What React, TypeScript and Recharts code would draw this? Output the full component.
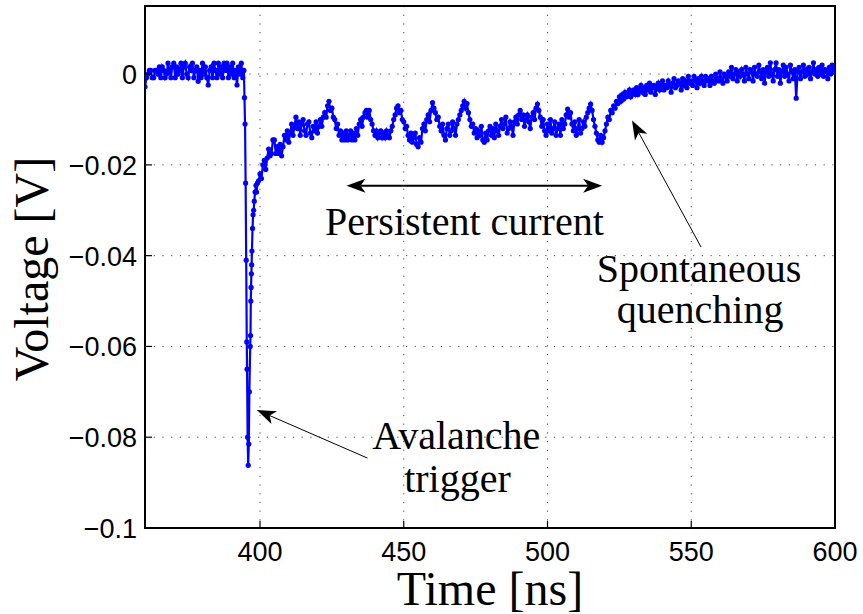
import React from 'react';
import { LineChart, Line, XAxis, YAxis, CartesianGrid, ReferenceLine, ReferenceDot, ReferenceArea } from 'recharts';

// [time ns, voltage mV]
const baselineNoise: [number, number][] = [
  [360, -2.8], [360.5, -0.8], [361, 0], [361.5, 0.8], [362, 0.8], [362.5, -0.8], [363, -0.8], [363.5, 0.8], [364, 0.8], [364.5, 0],
  [365, 1.6], [365.5, -0.8], [366, 1.6], [366.5, 0.8], [367, -0.8], [367.5, 0], [368, 2.4], [368.5, 0.8], [369, -0.8], [369.5, 1.6],
  [370, 2.4], [370.5, -0.8], [371, 1.6], [371.5, 0], [372, 0.8], [372.5, 2.4], [373, -0.8], [373.5, 1.6], [374, 2.4], [374.5, 0],
  [375, -0.8], [375.5, 1.6], [376, 0.8], [376.5, 2.4], [377, -0.8], [377.5, 0.8], [378, 1.6], [378.5, -1.6], [379, 0.8], [379.5, -0.8],
  [380, 2.4], [380.5, 0], [381, 1.6], [381.5, -0.8], [382, -2.4], [382.5, 0.8], [383, 1.6], [383.5, -0.8], [384, 2.4], [384.5, 0.8],
  [385, -0.8], [385.5, 2.4], [386, 0], [386.5, 1.6], [387, -0.8], [387.5, 2.4], [388, 0.8], [388.5, 2.4], [389, -0.8], [389.5, 1.6],
  [390, 0], [390.5, 2.4], [391, -0.8], [391.5, 0.8], [392, -2.4], [392.5, 1.6], [393, 0], [393.5, 2.4], [394, -0.8],
];

const avalancheSpike: [number, number][] = [
  [394.4, 0.8], [394.6, -5.2], [394.8, -11], [395.0, -24], [395.2, -41], [395.4, -59], [395.5, -65], [395.7, -80], [395.9, -86.2],
  [396.1, -81.5], [396.3, -70], [396.6, -60], [396.7, -57.6], [396.8, -50], [396.9, -47], [397.0, -44], [397.1, -42], [397.2, -39],
  [397.4, -34], [397.6, -31], [397.8, -30], [398.0, -28], [398.3, -26], [398.6, -24.5], [398.8, -26], [399.1, -24],
];

const persistentCurrent: [number, number][] = [
  [399.5, -23.5], [400, -22], [400.5, -23], [401, -20], [401.5, -19], [402, -21], [402.5, -18.5], [403, -16.5], [403.5, -18], [404, -17.5],
  [404.5, -14.5], [405, -14.5], [405.5, -17.5], [406, -16], [406.5, -17.5], [407, -15.5], [407.5, -18], [408, -16], [408.5, -13.5], [409, -14.5],
  [409.5, -12.5], [410, -15], [410.5, -13], [411, -11], [411.5, -13.5], [412, -11.5], [412.5, -9.5], [413, -12], [413.5, -10.5], [414, -13.5],
  [414.5, -11], [415, -10], [415.5, -12.5], [416, -13.5], [416.5, -11], [417, -10.5], [417.5, -13], [418, -14], [418.5, -11.5], [419, -12.5],
  [419.5, -10.5], [420, -13], [420.5, -11.5], [421, -10], [421.5, -11.5], [422, -9.5], [422.5, -8.5], [423, -9.5], [423.5, -7], [424, -6],
  [424.5, -8], [425, -7.5], [425.5, -9.5], [426, -10], [426.5, -12], [427, -11], [427.5, -13.5], [428, -12.5], [428.5, -14.5], [429, -13],
  [429.5, -14.5], [430, -12.5], [430.5, -14.5], [431, -13.5], [431.5, -12.5], [432, -14.5], [432.5, -13], [433, -14.5], [433.5, -12], [434, -13.5],
  [434.5, -11], [435, -10], [435.5, -11.5], [436, -9.5], [436.5, -8.5], [437, -8], [437.5, -9.5], [438, -8], [438.5, -10], [439, -11],
  [439.5, -12.5], [440, -13.5], [440.5, -12.5], [441, -14], [441.5, -13], [442, -12.5], [442.5, -14], [443, -13], [443.5, -14], [444, -12.5],
  [444.5, -13.5], [445, -14], [445.5, -12.5], [446, -11.5], [446.5, -10], [447, -9], [447.5, -7.5], [448, -7], [448.5, -8.5], [449, -8],
  [449.5, -10], [450, -10.5], [450.5, -12], [451, -11.5], [451.5, -13.5], [452, -14.5], [452.5, -13], [453, -15], [453.5, -14], [454, -13],
  [454.5, -15.5], [455, -16], [455.5, -14], [456, -15], [456.5, -12], [457, -11], [457.5, -12.5], [458, -10], [458.5, -9], [459, -10.5],
  [459.5, -8], [460, -6.3], [460.5, -7.5], [461, -8.5], [461.5, -10], [462, -9.5], [462.5, -11.5], [463, -12.5], [463.5, -11], [464, -13.5],
  [464.5, -14.5], [465, -12], [465.5, -11], [466, -13.5], [466.5, -12.5], [467, -10.5], [467.5, -12], [468, -13.5], [468.5, -11], [469, -10],
  [469.5, -9], [470, -8], [470.5, -7], [471, -6], [471.5, -7.5], [472, -6.5], [472.5, -8.5], [473, -10], [473.5, -11.5], [474, -11],
  [474.5, -13], [475, -12], [475.5, -14], [476, -12.5], [476.5, -13.5], [477, -11.5], [477.5, -14.5], [478, -15], [478.5, -13], [479, -14.5],
  [479.5, -12.5], [480, -11.5], [480.5, -13.5], [481, -12], [481.5, -14], [482, -11], [482.5, -12.5], [483, -13.5], [483.5, -11.5], [484, -10],
  [484.5, -12], [485, -11], [485.5, -9.5], [486, -13], [486.5, -12], [487, -10.5], [487.5, -11.5], [488, -13.5], [488.5, -10.5], [489, -9.5],
  [489.5, -11], [490, -9], [490.5, -8], [491, -10], [491.5, -9], [492, -11.5], [492.5, -10], [493, -9], [493.5, -10.5], [494, -12],
  [494.5, -9.5], [495, -8.5], [495.5, -10], [496, -7.5], [496.5, -6.6], [497, -8], [497.5, -9.5], [498, -11.5], [498.5, -10], [499, -12.5],
  [499.5, -13.5], [500, -11], [500.5, -12.5], [501, -10], [501.5, -13], [502, -12], [502.5, -10.5], [503, -13.5], [503.5, -12], [504, -11],
  [504.5, -13.5], [505, -10], [505.5, -12], [506, -11], [506.5, -9], [507, -7.7], [507.5, -9.5], [508, -8.5], [508.5, -11], [509, -12.5],
  [509.5, -10.5], [510, -13.5], [510.5, -12], [511, -10], [511.5, -13], [512, -12], [512.5, -10.5], [513, -11.5], [513.5, -9.5], [514, -8.5],
  [514.5, -7.5], [515, -6.6], [515.5, -8], [516, -10], [516.5, -11.5], [517, -13], [517.5, -14.5], [518, -15], [518.5, -13.5], [519, -15],
  [519.5, -14],
];

const quenchRecovery: [number, number][] = [
  [520, -12.5], [520.5, -11], [521, -9.5], [521.5, -10], [522, -8], [522.5, -8.5], [523, -7], [523.5, -7.5], [524, -6], [524.5, -6.5],
  [525, -5], [525.5, -6], [526, -4.5], [526.5, -5.5], [527, -4], [527.5, -5], [528, -4.5], [528.5, -3.5], [529, -5], [529.5, -4],
  [530, -3.5], [530.5, -4.5], [531, -3], [531.5, -4.5], [532, -3.5], [532.5, -2.5], [533, -4], [533.5, -3], [534, -4.5], [534.5, -2.5],
  [535, -3.5], [535.5, -2], [536, -4], [536.5, -3], [537, -2.5], [537.5, -4.5], [538, -3], [538.5, -2], [539, -3.5], [539.5, -2.5],
  [540, -1.5], [540.5, -3.5], [541, -2.5], [541.5, -3], [542, -1.5], [542.5, -2.5], [543, -4], [543.5, -2], [544, -1], [544.5, -3],
  [545, -2.5], [545.5, -1.5], [546, -2], [546.5, -3.5], [547, -1], [547.5, -2.5], [548, -1.5], [548.5, -3], [549, -0.5], [549.5, -2],
  [550, -1.5], [550.5, -2.5], [551, -0.5], [551.5, -1.5], [552, -3], [552.5, -1], [553, -2], [553.5, -0.5], [554, -1.5], [554.5, -2.5],
  [555, -0.5], [555.5, -1.5], [556, -1], [556.5, -2.5], [557, -0.5], [557.5, -1.5], [558, -2], [558.5, 0], [559, -1], [559.5, -1.5],
  [560, 0.5], [560.5, -1], [561, -2], [561.5, 0], [562, -0.5], [562.5, -1.5], [563, 0.5], [563.5, -0.5], [564, 1.5], [564.5, -1],
  [565, 0], [565.5, 1], [566, -1.5], [566.5, 0.5], [567, -0.5], [567.5, 1], [568, 0], [568.5, -1.5], [569, 1.5], [569.5, 0],
  [570, -1], [570.5, 1], [571, 0.5], [571.5, -1.5], [572, 1.5], [572.5, 0], [573, -0.5], [573.5, 2], [574, 0.5], [574.5, -1],
  [575, 1], [575.5, -2], [576, 0.5], [576.5, 1.5], [577, -0.5], [577.5, 2.5], [578, 0], [578.5, -1.5], [579, 1], [579.5, 2.5],
  [580, -0.5], [580.5, 1], [581, -2], [581.5, 0.5], [582, 2], [582.5, -0.5], [583, 1.5], [583.5, 0], [584, -1.5], [584.5, 2],
  [585, 0.5], [585.5, -1], [586, 1], [586.5, -5.3], [587, 0.5], [587.5, 1.5], [588, -1], [588.5, 0.5], [589, 2], [589.5, -0.5],
  [590, 1], [590.5, 0], [591, 1.5], [591.5, -1], [592, 0.5], [592.5, 2.5], [593, 0], [593.5, 1], [594, -0.5], [594.5, 1.5],
  [595, 0], [595.5, 2], [596, -0.5], [596.5, 1], [597, 0.5], [597.5, -1], [598, 1.5], [598.5, 0], [599, 2], [599.5, 0.5],
  [600, 1],
];

const xDomain = [360, 600];
const yDomain = [-0.1, 0.015];
const xTicks = [400, 450, 500, 550, 600];
const yTicks = [-0.1, -0.08, -0.06, -0.04, -0.02, 0];
const xTitle = 'Time [ns]';
const yTitle = 'Voltage [V]';

const textNotes = [
  { t: 471.1, v: -0.0355, text: 'Persistent current' },
  { t: 468.3, v: -0.0826, text: 'Avalanche' },
  { t: 468.7, v: -0.0921, text: 'trigger' },
  { t: 552.7, v: -0.0458, text: 'Spontaneous' },
  { t: 553.1, v: -0.0549, text: 'quenching' },
];

const arrowNotes = [
  { t1: 437.4, v1: -0.0846, t2: 398.9, v2: -0.074, both: false, w: 1 },
  { t1: 553.4, v1: -0.0381, t2: 529.4, v2: -0.0102, both: false, w: 1 },
  { t1: 430.1, v1: -0.0246, t2: 519.0, v2: -0.0246, both: true, w: 1.8 },
];

const data = [...baselineNoise, ...avalancheSpike, ...persistentCurrent, ...quenchRecovery].map(([t, mv]) => ({
  t,
  v: mv / 1000,
}));

const SERIF = "'Liberation Serif', 'Times New Roman', serif";
const SANS = "'Liberation Sans', Arial, Helvetica, sans-serif";
const TICK_LEN = 7;

const fmtY = (v: number) => (v === 0 ? '0' : '\u2212' + String(Math.abs(v)));

const XTickBottom = (p: any) => (
  <g>
    <line x1={p.x} y1={p.y} x2={p.x} y2={p.y - TICK_LEN} stroke="#000" strokeWidth={1.2} />
    <text x={p.x} y={p.y + 33} textAnchor="middle" fontSize={27} fontFamily={SANS} fill="#000">
      {p.payload.value}
    </text>
  </g>
);
const XTickTop = (p: any) => (
  <line x1={p.x} y1={p.y} x2={p.x} y2={p.y + TICK_LEN} stroke="#000" strokeWidth={1.2} />
);
const YTickLeft = (p: any) => (
  <g>
    <line x1={p.x} y1={p.y} x2={p.x + TICK_LEN} y2={p.y} stroke="#000" strokeWidth={1.2} />
    <text x={p.x - 8} y={p.y + 10} textAnchor="end" fontSize={27} fontFamily={SANS} fill="#000">
      {fmtY(p.payload.value)}
    </text>
  </g>
);
const YTickRight = (p: any) => (
  <line x1={p.x} y1={p.y} x2={p.x - TICK_LEN} y2={p.y} stroke="#000" strokeWidth={1.2} />
);

function arrowShape(both: boolean, sw: number) {
  return (p: any) => {
    const { x1, y1, x2, y2 } = p;
    const dx = x2 - x1;
    const dy = y2 - y1;
    const len = Math.hypot(dx, dy) || 1;
    const ux = dx / len;
    const uy = dy / len;
    const L = 19;
    const W = 7;
    const N = 5;
    const head = (tx: number, ty: number, ax: number, ay: number) => {
      const bx = tx - ax * L;
      const by = ty - ay * L;
      const nx = -ay;
      const ny = ax;
      const mx = tx - ax * (L - N);
      const my = ty - ay * (L - N);
      return `M${tx},${ty} L${bx + nx * W},${by + ny * W} L${mx},${my} L${bx - nx * W},${by - ny * W} Z`;
    };
    const sx = both ? x1 + ux * (L - N) : x1;
    const sy = both ? y1 + uy * (L - N) : y1;
    const ex = x2 - ux * (L - N);
    const ey = y2 - uy * (L - N);
    return (
      <g>
        <line x1={sx} y1={sy} x2={ex} y2={ey} stroke="#000" strokeWidth={sw} />
        <path d={head(x2, y2, ux, uy)} fill="#000" />
        {both ? <path d={head(x1, y1, -ux, -uy)} fill="#000" /> : null}
      </g>
    );
  };
}

const noteText = (text: string) => (p: any) => (
  <text x={p.cx} y={p.cy} textAnchor="middle" fontSize={40} fontFamily={SERIF} fill="#000">
    {text}
  </text>
);

const XTitle = (p: any) => {
  const vb = p.viewBox;
  return (
    <text x={vb.x + vb.width / 2} y={vb.y + 77} textAnchor="middle" fontSize={48} fontFamily={SERIF} fill="#000">
      {xTitle}
    </text>
  );
};
const YTitle = (p: any) => {
  const vb = p.viewBox;
  const cx = 48;
  const cy = vb.y + vb.height / 2 + 2;
  return (
    <text x={cx} y={cy} transform={`rotate(-90, ${cx}, ${cy})`} textAnchor="middle" fontSize={48} fontFamily={SERIF} fill="#000">
      {yTitle}
    </text>
  );
};

export default function App() {
  return (
    <div style={{ position: 'absolute', left: 0, top: 0, width: 863, height: 614, background: '#fff' }}>
      <LineChart width={863} height={614} data={data} margin={{ top: 6, right: 28, left: 0, bottom: 0 }}>
        <CartesianGrid xAxisId="b" yAxisId="l" stroke="#444" strokeDasharray="1.2 7.5" strokeWidth={1} />
        <XAxis
          xAxisId="b"
          dataKey="t"
          type="number"
          domain={xDomain}
          ticks={xTicks}
          interval={0}
          height={86}
          tickSize={0}
          tickMargin={0}
          tickLine={false}
          tick={<XTickBottom />}
          axisLine={false}
          allowDataOverflow
          label={<XTitle />}
        />
        <XAxis
          xAxisId="t"
          orientation="top"
          dataKey="t"
          type="number"
          domain={xDomain}
          ticks={xTicks}
          interval={0}
          height={0}
          tickSize={0}
          tickMargin={0}
          tickLine={false}
          tick={<XTickTop />}
          axisLine={false}
          allowDataOverflow
        />
        <YAxis
          yAxisId="l"
          type="number"
          domain={yDomain}
          ticks={yTicks}
          interval={0}
          width={145}
          tickSize={0}
          tickMargin={0}
          tickLine={false}
          tick={<YTickLeft />}
          axisLine={false}
          allowDataOverflow
          label={<YTitle />}
        />
        <YAxis
          yAxisId="r"
          orientation="right"
          type="number"
          domain={yDomain}
          ticks={yTicks}
          interval={0}
          width={0}
          tickSize={0}
          tickMargin={0}
          tickLine={false}
          tick={<YTickRight />}
          axisLine={false}
          allowDataOverflow
        />
        <ReferenceArea
          xAxisId="b"
          yAxisId="l"
          x1={xDomain[0]}
          x2={xDomain[1]}
          y1={yDomain[0]}
          y2={yDomain[1]}
          fill="none"
          fillOpacity={0}
          stroke="#000"
          strokeWidth={2}
          ifOverflow="visible"
        />
        <Line
          xAxisId="b"
          yAxisId="l"
          type="linear"
          dataKey="v"
          stroke="#0000ff"
          strokeWidth={2.2}
          dot={{ r: 2.6, fill: '#0000ff', stroke: '#0000ff', strokeWidth: 0 }}
          isAnimationActive={false}
        />
        {arrowNotes.map((a, i) => (
          <ReferenceLine
            key={'a' + i}
            xAxisId="b"
            yAxisId="l"
            segment={[{ x: a.t1, y: a.v1 }, { x: a.t2, y: a.v2 }]}
            shape={arrowShape(a.both, a.w)}
            ifOverflow="visible"
          />
        ))}
        {textNotes.map((n, i) => (
          <ReferenceDot
            key={'n' + i}
            xAxisId="b"
            yAxisId="l"
            x={n.t}
            y={n.v}
            r={0}
            shape={noteText(n.text)}
            ifOverflow="visible"
          />
        ))}
      </LineChart>
    </div>
  );
}
